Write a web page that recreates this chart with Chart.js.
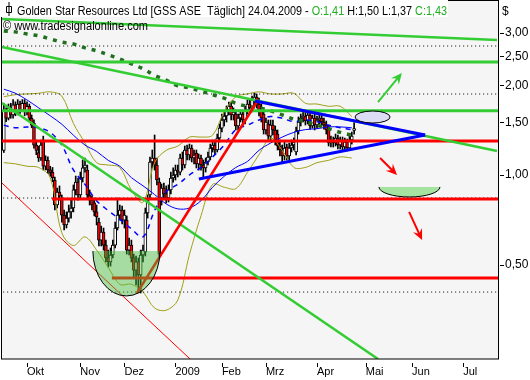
<!DOCTYPE html>
<html>
<head>
<meta charset="utf-8">
<script src="https://cdn.jsdelivr.net/npm/chart.js@4.4.0/dist/chart.umd.min.js"></script>
<style>
  html, body { margin: 0; padding: 0; background: #fff; }
</style>
</head>
<body>
<canvas id="myChart" width="530" height="380"></canvas>
<script>
// daily candles, first one is 10 trading days before 1 Oct 2008
var firstDay = -10;
var opens = [1.21,1.63,1.55,1.68,1.59,1.72,1.63,1.73,1.65,1.74,
  1.63,1.70,1.55,1.49,1.26,1.19,1.14,1.31,1.07,1.12,
  1.04,1.02,0.96,0.793,0.877,0.837,0.734,0.680,0.717,0.752,
  0.775,0.891,0.947,0.857,0.977,1.056,1.039,0.857,0.824,0.806,
  0.752,0.695,0.605,0.644,0.582,0.527,0.511,0.539,0.582,0.664,
  0.734,0.763,0.706,0.706,0.560,0.582,0.527,0.480,0.511,0.462,
  0.539,0.552,0.746,0.857,1.106,1.140,1.080,0.947,0.824,0.904,
  0.864,0.837,0.891,0.977,1.000,1.039,1.023,1.140,1.080,1.213,
  1.167,1.232,1.140,1.185,1.089,1.140,1.080,1.056,1.106,1.149,
  1.232,1.261,1.213,1.331,1.437,1.529,1.577,1.652,1.704,1.589,
  1.602,1.460,1.553,1.602,1.529,1.652,1.730,1.678,1.785,1.826,
  1.730,1.678,1.602,1.416,1.483,1.351,1.471,1.416,1.372,1.251,
  1.213,1.158,1.241,1.158,1.232,1.261,1.194,1.405,1.506,1.553,
  1.577,1.517,1.589,1.460,1.553,1.471,1.529,1.553,1.506,1.471,
  1.437,1.280,1.310,1.280,1.331,1.261,1.310,1.241,1.290,1.232,
  1.310,1.41];
var highs = [1.74,1.68,1.73,1.74,1.79,1.76,1.79,1.77,1.79,1.79,
  1.76,1.73,1.59,1.53,1.31,1.25,1.31,1.35,1.16,1.15,
  1.07,1.06,0.985,0.904,0.919,0.857,0.763,0.752,0.793,0.824,
  0.926,0.992,0.977,1.023,1.123,1.140,1.080,0.891,0.850,0.837,
  0.793,0.717,0.674,0.664,0.605,0.560,0.569,0.605,0.695,0.837,
  0.793,0.787,0.763,0.729,0.615,0.605,0.543,0.535,0.527,0.560,
  0.582,0.775,0.857,1.149,1.213,1.362,1.140,0.977,0.933,0.940,
  0.919,0.926,1.023,1.056,1.080,1.080,1.176,1.194,1.251,1.261,
  1.270,1.261,1.213,1.213,1.176,1.167,1.123,1.140,1.194,1.270,
  1.310,1.310,1.372,1.483,1.602,1.627,1.704,1.757,1.757,1.678,
  1.652,1.602,1.652,1.652,1.704,1.785,1.798,1.840,1.884,1.87,
  1.812,1.730,1.652,1.553,1.529,1.529,1.529,1.460,1.416,1.310,
  1.261,1.290,1.270,1.280,1.310,1.331,1.449,1.565,1.602,1.627,
  1.627,1.627,1.627,1.589,1.602,1.577,1.589,1.589,1.553,1.517,
  1.471,1.351,1.341,1.372,1.362,1.341,1.341,1.331,1.320,1.351,
  1.394,1.50];
var lows = [1.19,1.51,1.53,1.55,1.55,1.58,1.59,1.61,1.63,1.58,
  1.59,1.52,1.44,1.23,1.17,1.11,1.12,1.04,1.04,1.01,
  0.99,0.95,0.763,0.775,0.824,0.695,0.654,0.664,0.695,0.717,
  0.752,0.857,0.824,0.837,0.947,1.023,0.837,0.793,0.763,0.729,
  0.680,0.578,0.578,0.560,0.511,0.491,0.495,0.527,0.569,0.654,
  0.706,0.685,0.664,0.543,0.539,0.511,0.451,0.428,0.411,0.402,
  0.511,0.535,0.717,0.837,1.056,1.039,0.926,0.527,0.793,0.837,
  0.806,0.812,0.864,0.947,0.962,0.985,1.000,1.039,1.056,1.123,
  1.123,1.106,1.089,1.056,1.039,1.039,0.977,1.023,1.080,1.123,
  1.194,1.176,1.194,1.290,1.394,1.460,1.506,1.589,1.529,1.529,
  1.416,1.416,1.506,1.471,1.483,1.602,1.627,1.627,1.717,1.678,
  1.577,1.506,1.372,1.372,1.310,1.310,1.362,1.261,1.213,1.158,
  1.106,1.123,1.123,1.123,1.194,1.213,1.167,1.372,1.460,1.506,
  1.471,1.483,1.426,1.437,1.416,1.437,1.483,1.460,1.426,1.372,
  1.251,1.241,1.241,1.251,1.222,1.222,1.213,1.213,1.204,1.213,
  1.270,1.37];
var closes = [1.65,1.55,1.68,1.59,1.72,1.63,1.73,1.65,1.74,1.63,
  1.70,1.55,1.47,1.26,1.21,1.14,1.26,1.07,1.12,1.04,
  1.02,0.98,0.793,0.877,0.850,0.734,0.680,0.717,0.752,0.775,
  0.891,0.947,0.857,0.977,1.056,1.080,0.857,0.824,0.793,0.752,
  0.723,0.605,0.644,0.582,0.527,0.511,0.539,0.582,0.664,0.734,
  0.763,0.706,0.734,0.560,0.582,0.527,0.480,0.511,0.462,0.539,
  0.560,0.746,0.824,1.106,1.140,1.080,0.962,0.543,0.904,0.864,
  0.837,0.891,0.977,1.000,1.039,1.023,1.140,1.080,1.213,1.167,
  1.232,1.140,1.167,1.089,1.140,1.080,1.056,1.106,1.149,1.232,
  1.261,1.213,1.331,1.437,1.529,1.577,1.652,1.704,1.589,1.627,
  1.460,1.553,1.602,1.529,1.652,1.730,1.678,1.785,1.826,1.730,
  1.627,1.553,1.416,1.506,1.351,1.471,1.416,1.310,1.251,1.213,
  1.158,1.232,1.158,1.232,1.261,1.290,1.405,1.506,1.553,1.577,
  1.517,1.589,1.460,1.553,1.471,1.529,1.553,1.506,1.471,1.416,
  1.280,1.310,1.280,1.331,1.261,1.310,1.241,1.290,1.232,1.310,
  1.351,1.43];

// indicators, read once a week
var weekDays = [-10,-5,0,5,10,15,20,25,30,35,40,45,50,55,60,65,70,75,80,85,90,95,100,105,110,115,120,125,130,135,140];
var upperBand = [1.83,1.86,1.87,1.88,1.90,1.84,1.49,1.28,1.10,1.08,1.06,0.89,0.81,1.10,1.21,1.25,1.34,1.34,1.36,1.63,1.83,1.87,1.90,1.87,1.87,1.88,1.74,1.73,1.70,1.70,1.57];
var lowerBand = [1.10,1.09,1.07,1.06,0.98,0.64,0.58,0.62,0.56,0.49,0.43,0.43,0.405,0.358,0.352,0.381,0.54,0.73,0.93,0.91,0.90,1.02,1.17,1.33,1.21,1.06,1.06,1.10,1.12,1.15,1.14];
var midBand = [1.47,1.44,1.45,1.44,1.39,1.26,1.04,0.93,0.82,0.76,0.71,0.66,0.62,0.76,0.88,0.93,1.00,1.06,1.15,1.26,1.42,1.47,1.53,1.57,1.55,1.51,1.53,1.51,1.47,1.44,1.42];
var ma50 = [1.94,1.88,1.785,1.68,1.58,1.48,1.36,1.26,1.20,1.12,1.07,0.98,0.92,0.86,0.80,0.77,0.775,0.82,0.91,0.99,1.06,1.11,1.21,1.28,1.34,1.39,1.42,1.43,1.45,1.45,1.44];
var ma200 = [3.04,3.02,2.97,2.93,2.86,2.79,2.75,2.67,2.61,2.53,2.45,2.36,2.27,2.16,2.08,1.99,1.96,1.91,1.86,1.81,1.74,1.70,1.68,1.64,1.59,1.54,1.51,1.47,1.43,1.39,1.36];

// axis ticks
var monthDays = [0,23,42,64,84,103,125,146,166,188];
var monthLabels = ["Okt","Nov","Dez","2009","Feb","Mrz","Apr","Mai","Jun","Jul"];
var priceTicks = [0.5,1,1.5,2,2.5,3];
var dayRange = [-11.21, 203.02];
var priceRange = [0.2415, 3.863];

// drawn analysis: [day, price] end points
var greenTopLine = [[-10.8,3.335],[202.6,2.836]];
var greenLongLine = [[-10.8,2.687],[202.6,1.204]];
var greenSteepLine = [[-10.8,1.744],[151.3,0.2415]];
var redThinLine = [[-10.8,0.940],[70.3,0.2415]];
var redRiseLine = [[47.4,0.402],[99.6,1.785]];
var blueUpperLine = [[98.3,1.771],[171.6,1.362]];
var blueLowerLine = [[74.1,0.970],[171.6,1.362]];
var greenLevels = [2.393,1.643];
var redLevels = [1.30,0.831,0.451];
var redLevelStart = [-12,10.8,36.6];
var dottedLevels = [2.708,1.869,0.837,0.405];
var cupZone = {from:28.4, to:57.3, top:0.556, bottom:0.393};
var bowlZone = {from:151.7, to:178, top:0.912, bottom:0.844};
var ovalZone = {from:141.4, to:156.5, top:1.639, bottom:1.494};
var greenArrow = [[151.3,1.757],[161.6,2.198]];
var redArrows = [[[152.2,1.140],[159.5,1.000]], [[164.7,0.752],[170.3,0.605]]];

var candleDays = opens.map(function(o, k) { return firstDay + k; });

function pts(xs, ys) {
  return xs.map(function(x, k) { return {x: x, y: ys[k]}; });
}
function seg(line) {
  return line.map(function(p) { return {x: p[0], y: p[1]}; });
}
function lineSet(data, color, width, dash, order, tension) {
  return {
    type: 'line', data: data, borderColor: color, borderWidth: width,
    borderDash: dash || [], pointRadius: 0, fill: false,
    tension: tension || 0, order: order, clip: 0
  };
}

var datasets = [];
datasets.push({
  type: 'bar',
  data: candleDays.map(function(d, k) { return {x: d, y: [lows[k], highs[k]]}; }),
  backgroundColor: '#000', barThickness: 1, grouped: false, order: 40, clip: 0
});
datasets.push({
  type: 'bar',
  data: candleDays.map(function(d, k) { return {x: d, y: [opens[k], closes[k]]}; }),
  backgroundColor: candleDays.map(function(d, k) { return closes[k] < opens[k] ? '#ff0000' : '#ffffff'; }),
  borderColor: '#000', borderWidth: 1, borderSkipped: false,
  barThickness: 3, grouped: false, order: 39, clip: 0
});

datasets.push(lineSet(pts(weekDays, upperBand), '#a0a018', 1, null, 30, 0.35));
datasets.push(lineSet(pts(weekDays, lowerBand), '#a0a018', 1, null, 30, 0.35));
datasets.push(lineSet(pts(weekDays, ma50), '#0000ff', 1, null, 29, 0.35));
datasets.push(lineSet(pts(weekDays, midBand), '#0000ff', 1.5, [5, 5], 28, 0.35));

dottedLevels.forEach(function(p) {
  datasets.push(lineSet(seg([[-12, p], [205, p]]), '#000', 1, [1, 3], 27));
});
datasets.push(lineSet(pts(weekDays, ma200), '#1f6f1f', 3.5, [4, 6], 26, 0.35));

greenLevels.forEach(function(p) {
  datasets.push(lineSet(seg([[-12, p], [205, p]]), '#33cc33', 3, null, 10));
});
redLevels.forEach(function(p, k) {
  datasets.push(lineSet(seg([[redLevelStart[k], p], [205, p]]), '#ff0000', 3, null, 9));
});
datasets.push(lineSet(seg(greenTopLine), '#33cc33', 2.5, null, 8));
datasets.push(lineSet(seg(greenLongLine), '#33cc33', 2.5, null, 8));
datasets.push(lineSet(seg(greenSteepLine), '#33cc33', 2.5, null, 8));
datasets.push(lineSet(seg(redThinLine), '#ff0000', 1, null, 7));
datasets.push(lineSet(seg(redRiseLine), '#ff0000', 2.5, null, 7));
datasets.push(lineSet(seg(blueUpperLine), '#0000ff', 3, null, 6));
datasets.push(lineSet(seg(blueLowerLine), '#0000ff', 3, null, 6));

function drawArrow(ctx, a, b, color) {
  var ang = Math.atan2(b[1] - a[1], b[0] - a[0]);
  ctx.save();
  ctx.strokeStyle = color; ctx.fillStyle = color; ctx.lineWidth = 2;
  ctx.beginPath(); ctx.moveTo(a[0], a[1]);
  ctx.lineTo(b[0] - 6 * Math.cos(ang), b[1] - 6 * Math.sin(ang)); ctx.stroke();
  ctx.translate(b[0], b[1]); ctx.rotate(ang);
  ctx.beginPath(); ctx.moveTo(0, 0); ctx.lineTo(-11, -5); ctx.lineTo(-7, 0); ctx.lineTo(-11, 5);
  ctx.closePath(); ctx.fill();
  ctx.restore();
}

function fitText(ctx, parts, x, y, width) {
  var full = parts.map(function(p) { return p[0]; }).join('');
  var sx = width / ctx.measureText(full).width;
  ctx.save(); ctx.translate(x, y); ctx.scale(sx, 1);
  var cx = 0;
  parts.forEach(function(p) {
    ctx.fillStyle = p[1]; ctx.fillText(p[0], cx, 0);
    cx += ctx.measureText(p[0]).width;
  });
  ctx.restore();
}

var chartDecor = {
  id: 'chartDecor',
  beforeDraw: function(chart) {
    var ctx = chart.ctx, ca = chart.chartArea;
    ctx.save();
    ctx.fillStyle = '#fff'; ctx.fillRect(0, 0, chart.width, chart.height);
    ctx.fillStyle = '#f5f5f5'; ctx.fillRect(ca.left, ca.top, ca.right - ca.left, ca.bottom - ca.top);
    ctx.restore();
  },
  afterDatasetsDraw: function(chart) {
    var ctx = chart.ctx, xs = chart.scales.x, ys = chart.scales.y, ca = chart.chartArea;
    function px(v) { return xs.getPixelForValue(v); }
    function py(v) { return ys.getPixelForValue(v); }
    function box(z) {
      var l = px(z.from), r = px(z.to), t = py(z.top), b = py(z.bottom);
      return {cx: (l + r) / 2, rx: (r - l) / 2, t: t, b: b};
    }
    ctx.save();
    ctx.beginPath(); ctx.rect(ca.left, ca.top, ca.right - ca.left, ca.bottom - ca.top); ctx.clip();

    // cup under the December low
    var c = box(cupZone);
    ctx.beginPath(); ctx.ellipse(c.cx, c.t, c.rx, c.b - c.t, 0, 0, Math.PI); ctx.closePath();
    ctx.fillStyle = 'rgba(70,190,60,0.45)'; ctx.fill();
    ctx.beginPath(); ctx.ellipse(c.cx, c.t, c.rx, c.b - c.t, 0, 0, Math.PI);
    ctx.strokeStyle = '#000'; ctx.lineWidth = 1; ctx.stroke();

    // target bowl
    var w = box(bowlZone);
    ctx.beginPath(); ctx.ellipse(w.cx, w.t, w.rx, w.b - w.t, 0, 0, Math.PI); ctx.closePath();
    ctx.fillStyle = '#a6e3a0'; ctx.fill();
    ctx.beginPath(); ctx.ellipse(w.cx, w.t, w.rx, w.b - w.t, 0, 0, Math.PI);
    ctx.stroke();

    // oval at the breakout
    var o = box(ovalZone);
    ctx.beginPath(); ctx.ellipse(o.cx, (o.t + o.b) / 2, o.rx, (o.b - o.t) / 2, 0, 0, 2 * Math.PI);
    ctx.fillStyle = '#dcdcf4'; ctx.fill(); ctx.stroke();

    drawArrow(ctx, [px(greenArrow[0][0]), py(greenArrow[0][1])], [px(greenArrow[1][0]), py(greenArrow[1][1])], '#33cc33');
    redArrows.forEach(function(a) {
      drawArrow(ctx, [px(a[0][0]), py(a[0][1])], [px(a[1][0]), py(a[1][1])], '#ff0000');
    });
    ctx.restore();
  },
  afterDraw: function(chart) {
    var ctx = chart.ctx, xs = chart.scales.x, ys = chart.scales.y, ca = chart.chartArea;
    ctx.save();
    ctx.strokeStyle = '#000'; ctx.lineWidth = 1;
    ctx.strokeRect(ca.left + 0.5, ca.top + 0.5, ca.right - ca.left, ca.bottom - ca.top - 0.5);

    // tick marks
    ctx.beginPath();
    xs.ticks.forEach(function(t) {
      var x = Math.round(xs.getPixelForValue(t.value)) + 0.5;
      ctx.moveTo(x, ca.bottom + 4); ctx.lineTo(x, ca.bottom + 8);
    });
    ys.ticks.forEach(function(t) {
      var y = Math.round(ys.getPixelForValue(t.value)) + 0.5;
      ctx.moveTo(ca.right + 2, y); ctx.lineTo(ca.right + 6, y);
    });
    ctx.stroke();

    // title
    ctx.fillStyle = '#fff'; ctx.fillRect(0, 0, 448, 17);
    ctx.fillStyle = '#fff'; ctx.fillRect(6.5, 6.5, 5, 6);
    ctx.beginPath();
    ctx.moveTo(9, 2); ctx.lineTo(9, 16);
    ctx.rect(6.5, 6.5, 5, 6);
    ctx.stroke();
    ctx.font = "12px 'Liberation Sans', Arial, sans-serif";
    ctx.textBaseline = 'alphabetic';
    fitText(ctx, [["Golden Star Resources Ltd [GSS ASE  T\u00e4glich] 24.04.2009 - ", '#000'],
      ["O:1,41", '#1fae1f'], [" H:1,50 L:1,37 ", '#000'], ["C:1,43", '#1fae1f']], 17, 15, 430);
    fitText(ctx, [["\u00a9 www.tradesignalonline.com", '#000']], 3, 30, 145);
    ctx.fillStyle = '#000';
    ctx.fillText('$', 502, 15);
    ctx.restore();
  }
};

new Chart(document.getElementById('myChart'), {
  type: 'bar',
  data: { datasets: datasets },
  plugins: [chartDecor],
  options: {
    responsive: false,
    animation: false,
    events: [],
    layout: { padding: { left: 1, top: 0, right: 0, bottom: 0 } },
    plugins: { legend: { display: false }, tooltip: { enabled: false } },
    scales: {
      x: {
        type: 'linear', position: 'bottom', bounds: 'data', offset: false,
        min: dayRange[0], max: dayRange[1],
        grid: { display: false, drawTicks: false },
        border: { display: false },
        afterBuildTicks: function(scale) {
          scale.ticks = monthDays.map(function(v) { return {value: v}; });
        },
        afterFit: function(scale) {
          scale.height = 21;
          scale.paddingLeft = 0; scale.paddingRight = 0;
        },
        ticks: {
          autoSkip: false, maxRotation: 0, align: 'start', padding: 6,
          color: '#000', font: { family: "'Liberation Sans', Arial, sans-serif", size: 11 },
          callback: function(v) { return monthLabels[monthDays.indexOf(v)]; }
        }
      },
      y: {
        type: 'logarithmic', position: 'right', bounds: 'data',
        min: priceRange[0], max: priceRange[1],
        grid: { display: false, drawTicks: false },
        border: { display: false },
        afterBuildTicks: function(scale) {
          scale.ticks = priceTicks.map(function(v) { return {value: v}; });
        },
        afterFit: function(scale) {
          scale.width = 32;
          scale.paddingTop = 0; scale.paddingBottom = 0;
        },
        ticks: {
          autoSkip: false, padding: 7,
          color: '#000', font: { family: "'Liberation Sans', Arial, sans-serif", size: 12 },
          callback: function(v) { return v.toFixed(2).replace('.', ','); }
        }
      }
    }
  }
});
</script>
</body>
</html>
